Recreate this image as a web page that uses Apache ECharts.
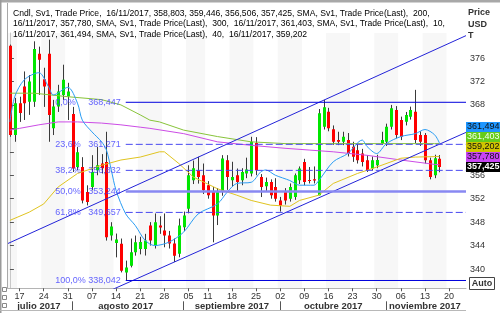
<!DOCTYPE html>
<html><head><meta charset="utf-8">
<script src="https://cdn.jsdelivr.net/npm/echarts@6/dist/echarts.min.js"></script>
<style>html,body{margin:0;padding:0;background:#fff}#c{width:500px;height:313px}</style>
</head><body><div id="c"></div>
<script>
// ---------- DATA ----------
const categories = [
'13/07/2017','14/07/2017',
'17/07/2017','18/07/2017','19/07/2017','20/07/2017','21/07/2017',
'24/07/2017','25/07/2017','26/07/2017','27/07/2017','28/07/2017',
'31/07/2017','01/08/2017','02/08/2017','03/08/2017','04/08/2017',
'07/08/2017','08/08/2017','09/08/2017','10/08/2017','11/08/2017',
'14/08/2017','15/08/2017','16/08/2017','17/08/2017','18/08/2017',
'21/08/2017','22/08/2017','23/08/2017','24/08/2017','25/08/2017',
'28/08/2017','29/08/2017','30/08/2017','31/08/2017','01/09/2017',
'05/09/2017','06/09/2017','07/09/2017','08/09/2017',
'11/09/2017','12/09/2017','13/09/2017','14/09/2017','15/09/2017',
'18/09/2017','19/09/2017','20/09/2017','21/09/2017','22/09/2017',
'25/09/2017','26/09/2017','27/09/2017','28/09/2017','29/09/2017',
'02/10/2017','03/10/2017','04/10/2017','05/10/2017','06/10/2017',
'09/10/2017','10/10/2017','11/10/2017','12/10/2017','13/10/2017',
'16/10/2017','17/10/2017','18/10/2017','19/10/2017','20/10/2017',
'23/10/2017','24/10/2017','25/10/2017','26/10/2017','27/10/2017',
'30/10/2017','31/10/2017','01/11/2017','02/11/2017','03/11/2017',
'06/11/2017','07/11/2017','08/11/2017','09/11/2017','10/11/2017',
'13/11/2017','14/11/2017','15/11/2017','16/11/2017','17/11/2017',
'20/11/2017','21/11/2017','22/11/2017','23/11/2017'];

// [date, open, close, low, high]
const candles = [
['13/07/2017',378.11,362.86,362.56,378.29],
['14/07/2017',362.86,368.29,361.71,369.20],
['17/07/2017',368.29,366.60,365.10,369.40],
['18/07/2017',371.14,368.29,365.43,373.71],
['19/07/2017',368.56,371.99,366.30,373.10],
['20/07/2017',368.56,377.55,367.66,378.85],
['21/07/2017',376.74,375.71,369.71,377.94],
['24/07/2017',372.40,371.14,367.66,374.34],
['25/07/2017',376.74,366.28,361.71,379.14],
['26/07/2017',364.00,367.71,362.86,368.86],
['27/07/2017',367.71,370.28,366.80,371.43],
['28/07/2017',369.71,372.28,368.86,374.86],
['31/07/2017',369.42,370.28,365.43,371.77],
['01/08/2017',366.46,357.15,356.56,367.66],
['02/08/2017',357.42,359.94,356.86,360.85],
['03/08/2017',357.42,351.71,351.20,359.08],
['04/08/2017',353.14,351.42,350.85,354.28],
['07/08/2017',353.99,356.56,353.43,359.43],
['08/08/2017',356.86,357.71,356.00,360.85],
['09/08/2017',358.00,357.20,356.30,359.60],
['10/08/2017',358.28,345.42,344.85,363.42],
['11/08/2017',345.71,347.25,344.85,347.99],
['14/08/2017',344.43,345.05,341.99,346.05],
['15/08/2017',344.29,339.71,339.42,345.20],
['16/08/2017',339.42,340.28,338.042,341.43],
['17/08/2017',340.57,342.85,340.28,345.20],
['18/08/2017',342.85,344.56,342.28,345.71],
['21/08/2017',343.40,344.60,342.50,345.50],
['22/08/2017',343.43,344.85,342.30,346.00],
['23/08/2017',347.42,344.85,344.00,348.00],
['24/08/2017',344.00,347.99,343.50,349.48],
['25/08/2017',347.42,347.10,346.00,349.00],
['28/08/2017',346.57,345.71,343.71,349.48],
['29/08/2017',345.71,344.34,343.50,346.50],
['30/08/2017',344.34,342.28,341.20,345.20],
['31/08/2017',342.62,347.42,342.00,348.60],
['01/09/2017',347.13,349.14,346.50,349.80],
['05/09/2017',350.29,356.00,349.50,357.70],
['06/09/2017',355.14,357.20,354.50,358.50],
['07/09/2017',356.86,355.71,354.57,359.14],
['08/09/2017',356.00,353.43,352.80,358.00],
['11/09/2017',354.28,352.57,352.00,355.00],
['12/09/2017',353.14,349.14,344.56,354.00],
['13/09/2017',349.14,353.14,347.50,353.80],
['14/09/2017',353.14,358.86,352.50,359.43],
['15/09/2017',358.57,355.71,353.50,359.43],
['18/09/2017',355.14,355.71,354.00,358.30],
['19/09/2017',356.00,354.85,353.14,357.15],
['20/09/2017',355.14,356.56,354.30,357.20],
['21/09/2017',356.29,357.00,355.50,359.00],
['22/09/2017',356.29,361.71,355.80,362.56],
['25/09/2017',361.50,356.86,356.00,362.50],
['26/09/2017',355.71,353.99,352.28,356.20],
['27/09/2017',354.11,354.85,353.20,355.60],
['28/09/2017',354.85,352.57,352.00,355.30],
['29/09/2017',354.00,352.00,351.50,355.50],
['02/10/2017',351.71,350.85,349.80,352.30],
['03/10/2017',353.14,351.71,351.00,353.80],
['04/10/2017',352.00,353.99,351.50,354.60],
['05/10/2017',352.28,356.00,351.80,356.30],
['06/10/2017',355.14,357.15,354.50,357.50],
['09/10/2017',358.28,354.85,354.30,358.80],
['10/10/2017',355.20,355.00,354.60,357.40],
['11/10/2017',355.30,355.10,354.60,357.50],
['12/10/2017',352.57,366.58,352.57,367.30],
['13/10/2017',364.28,367.60,363.80,368.86],
['16/10/2017',366.85,364.00,363.50,367.50],
['17/10/2017',363.83,361.71,361.20,364.50],
['18/10/2017',362.00,361.71,361.14,363.42],
['19/10/2017',361.71,362.56,361.14,363.42],
['20/10/2017',362.00,359.72,359.20,363.20],
['23/10/2017',360.85,359.14,358.28,361.71],
['24/10/2017',360.28,358.57,358.00,361.40],
['25/10/2017',359.72,358.28,357.50,360.50],
['26/10/2017',358.57,356.86,356.56,359.43],
['27/10/2017',357.15,358.57,356.80,359.20],
['30/10/2017',357.70,358.60,357.20,359.50],
['31/10/2017',361.43,362.00,361.20,363.42],
['01/11/2017',361.71,364.28,361.00,364.80],
['02/11/2017',364.28,367.43,363.80,368.00],
['03/11/2017',367.14,362.86,362.30,367.80],
['06/11/2017',365.43,362.56,362.00,366.00],
['07/11/2017',365.14,366.28,364.50,366.80],
['08/11/2017',366.00,367.14,365.50,367.70],
['09/11/2017',366.85,362.00,361.50,370.57],
['10/11/2017',362.86,361.71,361.00,363.50],
['13/11/2017',362.86,358.57,358.00,363.20],
['14/11/2017',358.57,355.71,355.30,359.00],
['15/11/2017',356.00,358.91,355.50,359.50],
['16/11/2017',358.803,357.425,356.506,359.446]];

const sma10 = [['13/07/2017',365.1],['14/07/2017',369.4],['18/07/2017',372.3],['21/07/2017',373.5],
['25/07/2017',371.1],['26/07/2017',369.7],['31/07/2017',371.0],['02/08/2017',368.3],['03/08/2017',365.4],
['07/08/2017',363.4],['09/08/2017',361.7],['10/08/2017',360.3],['11/08/2017',356.9],['14/08/2017',353.4],
['16/08/2017',349.4],['18/08/2017',347.4],['22/08/2017',344.9],['24/08/2017',344.0],['29/08/2017',344.6],
['01/09/2017',346.3],['07/09/2017',349.4],['13/09/2017',351.1],['15/09/2017',353.1],['19/09/2017',354.6],
['22/09/2017',354.8],['26/09/2017',356.6],['27/09/2017',356.9],['29/09/2017',356.0],['04/10/2017',355.1],
['06/10/2017',354.3],['11/10/2017',354.3],['12/10/2017',355.1],['17/10/2017',358.3],['20/10/2017',359.7],
['25/10/2017',362.0],['26/10/2017',360.9],['30/10/2017',359.7],['01/11/2017',361.4],['06/11/2017',362.6],
['09/11/2017',363.1],['13/11/2017',363.8],['15/11/2017',362.9],['16/11/2017',361.494]];

const sma40 = [['13/07/2017',348.3],['19/07/2017',349.7],['24/07/2017',351.1],['27/07/2017',354.0],
['02/08/2017',356.3],['09/08/2017',357.7],['15/08/2017',358.6],['21/08/2017',359.1],['25/08/2017',360.0],
['28/08/2017',360.0],['31/08/2017',358.0],['06/09/2017',355.7],['13/09/2017',353.7],['19/09/2017',352.6],
['22/09/2017',351.7],['28/09/2017',350.9],['04/10/2017',350.7],['06/10/2017',351.7],['12/10/2017',352.6],
['17/10/2017',354.6],['24/10/2017',356.3],['30/10/2017',357.4],['06/11/2017',358.9],['09/11/2017',359.1],
['16/11/2017',359.202]];

const sma200 = [['13/07/2017',363.7],['17/07/2017',364.0],['21/07/2017',364.6],['27/07/2017',365.1],
['02/08/2017',365.1],['09/08/2017',364.9],['15/08/2017',364.6],['21/08/2017',364.2],['23/08/2017',364.0],
['01/09/2017',363.1],['13/09/2017',361.7],['22/09/2017',361.1],['03/10/2017',360.6],['10/10/2017',360.3],
['17/10/2017',360.0],['26/10/2017',359.4],['06/11/2017',358.6],['15/11/2017',357.85],['16/11/2017',357.78]];

const sma300 = [['13/07/2017',370.0],['20/07/2017',370.0],['31/07/2017',369.4],['09/08/2017',368.9],
['15/08/2017',368.0],['21/08/2017',366.3],['23/08/2017',365.4],['25/08/2017',365.1],['01/09/2017',363.7],
['13/09/2017',362.6],['22/09/2017',361.7],['03/10/2017',361.4],['17/10/2017',361.4],['26/10/2017',361.4],
['15/11/2017',361.4],['16/11/2017',361.403]];

const fibPercents = ['0,0%','23,6%','38,2%','50,0%','61,8%','100,0%'];
const fibLevels = [368.447, 361.271, 356.832, 353.244, 349.657, 338.042];
const fibStartDate = '16/08/2017';

// channel lines: [category position, price]
const channelUpper = [[-0.5, 344.32], [94.5, 379.82]];
const channelLower = [[17, 334.95], [94.5, 363.31]];

const weekStarts = ['17/07/2017','24/07/2017','31/07/2017','07/08/2017','14/08/2017','21/08/2017','28/08/2017',
'05/09/2017','11/09/2017','18/09/2017','25/09/2017','02/10/2017','09/10/2017','16/10/2017','23/10/2017',
'30/10/2017','06/11/2017','13/11/2017','20/11/2017'];
const monthStarts = ['01/08/2017','01/09/2017','02/10/2017','01/11/2017'];
const monthLabels = {'21/07/2017':'julio 2017','16/08/2017':'agosto 2017','18/09/2017':'septiembre 2017',
'17/10/2017':'octubre 2017','13/11/2017':'noviembre 2017'};
const yTicks = [340,344,348,352,356,360,364,368,372,376];

// ---------- CHART ----------
const FONT = "'Liberation Sans', Arial, sans-serif";
const chart = echarts.init(document.getElementById('c'), null, {renderer:'canvas'});
const fmt = v => v.toFixed(3).replace('.', ',');
const last = a => a[a.length-1][1];
const lastC = candles[candles.length-1];

function renderCandle(params, api) {
  const x = api.value(0), o = api.value(1), c = api.value(2), l = api.value(3), h = api.value(4);
  const pH = api.coord([x, h]), pL = api.coord([x, l]), pO = api.coord([x, o]), pC = api.coord([x, c]);
  const band = api.size([1, 0])[0];
  const w = Math.max(2, Math.round(band * 0.72));
  const cx = Math.round(pH[0]) + 0.5;
  const top = Math.min(pO[1], pC[1]), bot = Math.max(pO[1], pC[1]);
  return {type:'group', children:[
    {type:'line', shape:{x1:cx, y1:pH[1], x2:cx, y2:pL[1]}, style:{stroke:'#3a3a3a', lineWidth:1}},
    {type:'rect', shape:{x:cx - w/2, y:top, width:w, height:Math.max(1, bot-top)},
     style:{fill: c >= o ? '#00e600' : '#ff0000'}}
  ]};
}

const GRID = {left:7.5, right:34, top:33, bottom:24.7};
const fibStartPos = categories.indexOf(fibStartDate);
const fibStyles = [
  {color:'#0000dd', width:1, type:'solid'},
  {color:'#4848f0', width:1, type:[7,3]},
  {color:'#4848f0', width:1, type:[7,3]},
  {color:'#8888f2', width:2.5, type:'solid'},
  {color:'#4848f0', width:1, type:[7,3]},
  {color:'#0000dd', width:1, type:'solid'}];
const FIBC = '#3c3cff';

const fibSeries = fibLevels.map((lv, k) => ({
  type:'line', xAxisIndex:2, yAxisIndex:0, symbol:'none', z:4, silent:true,
  lineStyle: fibStyles[k],
  data:[[fibStartPos, lv], [categories.length - 0.5, lv]]
}));
const fibLabelSeries = {
  type:'scatter', xAxisIndex:2, yAxisIndex:0, symbol:'circle', symbolSize:1, z:5, silent:true,
  itemStyle:{color:'rgba(0,0,0,0)'},
  data: fibLevels.map((lv, k) => ({value:[fibStartPos, lv], name:fibPercents[k]})),
  label:{show:true, position:'left', distance:6,
    formatter: p => '{p|' + p.name + '}{v|' + fmt(p.value[1]) + '}',
    rich:{p:{width:33, align:'left', fontFamily:FONT, fontSize:9, color:FIBC},
          v:{width:31, align:'left', fontFamily:FONT, fontSize:9, color:FIBC}}}
};

const intervalOf = list => (i, v) => list.indexOf(v) >= 0;

chart.setOption({
  animation:false,
  backgroundColor:'#ffffff',
  grid: GRID,
  xAxis:[
    {type:'category', data:categories, boundaryGap:true, gridIndex:0,
     axisLine:{show:true, lineStyle:{color:'#b4b4b4'}},
     axisTick:{show:true, interval:intervalOf(weekStarts), alignWithLabel:true, length:3, lineStyle:{color:'#555'}},
     axisLabel:{interval:intervalOf(weekStarts), formatter:v => v.slice(0,2), color:'#333', fontFamily:FONT, fontSize:9, margin:4},
     splitArea:{show:true, interval:intervalOf(weekStarts), areaStyle:{color:['#f7f7f7','#ffffff']}},
     splitLine:{show:false}},
    {type:'category', data:categories, boundaryGap:true, gridIndex:0, position:'bottom', offset:13,
     axisLine:{show:false},
     axisTick:{show:true, interval:intervalOf(monthStarts), alignWithLabel:true, length:9, lineStyle:{color:'#555'}},
     axisLabel:{interval:(i, v) => monthLabels[v] !== undefined, formatter:v => monthLabels[v] || '',
       color:'#333', fontWeight:'bold', fontFamily:FONT, fontSize:9.5, margin:0},
     splitArea:{show:false}, splitLine:{show:false}},
    {type:'value', min:-0.5, max:categories.length - 0.5, show:false, gridIndex:0}
  ],
  yAxis:[{type:'value', position:'right', min:336.71, max:380.27, scale:true,
    axisLine:{show:true, lineStyle:{color:'#c8c8c8'}},
    axisTick:{show:true, customValues:yTicks, length:4, lineStyle:{color:'#555'}},
    axisLabel:{customValues:yTicks, formatter:v => String(v), color:'#333', fontFamily:FONT, fontSize:9, margin:4},
    splitLine:{show:false}}],
  series:[
    {type:'custom', name:'Cndl', xAxisIndex:0, yAxisIndex:0, renderItem:renderCandle, clip:true, z:2,
     encode:{x:0, y:[1,2,3,4]}, data:candles},
    {type:'line', name:'SMA300', data:sma300, symbol:'none', z:3, lineStyle:{color:'#88c43a', width:1}},
    {type:'line', name:'SMA200', data:sma200, symbol:'none', z:3, lineStyle:{color:'#cc4ce6', width:1}},
    {type:'line', name:'SMA40', data:sma40, symbol:'none', z:3, lineStyle:{color:'#e0c420', width:1}},
    {type:'line', name:'SMA10', data:sma10, symbol:'none', z:3, smooth:0.3, lineStyle:{color:'#2a9df4', width:1}},
    {type:'line', xAxisIndex:2, data:channelUpper, symbol:'none', z:4, clip:true, lineStyle:{color:'#2323d8', width:1}},
    {type:'line', xAxisIndex:2, data:channelLower, symbol:'none', z:4, clip:true, lineStyle:{color:'#2323d8', width:1}},
    ...fibSeries,
    fibLabelSeries
  ]
});

// ---------- legend text, tags, frame ----------
const LFS = 8.6;
const legendLines = [
  [['#000000','Cndl, Sv1, Trade Price,  ' + lastC[0] + ', ' + fmt(lastC[1]) + ', ' + fmt(lastC[4]) + ', ' + fmt(lastC[3]) + ', ' + fmt(lastC[2]) + ', '],
   ['#cc33cc','SMA, Sv1, Trade Price(Last),  200,']],
  [['#cc33cc', lastC[0] + ', ' + fmt(last(sma200)) + ', '],
   ['#66b814','SMA, Sv1, Trade Price(Last),  300,  ' + lastC[0] + ', ' + fmt(last(sma300)) + ', '],
   ['#1e90ff','SMA, Sv1, Trade Price(Last),  10,']],
  [['#1e90ff', lastC[0] + ', ' + fmt(last(sma10)) + ', '],
   ['#d4b400','SMA, Sv1, Trade Price(Last),  40,  ' + lastC[0] + ', ' + fmt(last(sma40))]]
];
const legendGraphics = legendLines.map((parts, li) => {
  const rich = {};
  let text = '';
  parts.forEach((p, k) => { rich['s'+k] = {color:p[0], fontFamily:FONT, fontSize:LFS}; text += '{s'+k+'|' + p[1] + '}'; });
  return {type:'text', left:13, top:9 + li*10.5, z:100, style:{text, rich, fontFamily:FONT, fontSize:LFS}};
});

function buildTags() {
  const tags = [
    {v:lastC[2], bg:'#000000', fg:'#ffffff', bold:true},
    {v:last(sma200), bg:'#c844f4', fg:'#111'},
    {v:last(sma40), bg:'#cfc400', fg:'#111'},
    {v:last(sma300), bg:'#66cc1a', fg:'#f4fff0'},
    {v:last(sma10), bg:'#1e96ff', fg:'#111'}
  ].sort((a,b) => a.v - b.v);
  let prev = null;
  const out = [];
  tags.forEach(t => {
    let y = chart.convertToPixel({yAxisIndex:0}, t.v);
    if (prev !== null) y = Math.min(y, prev - 10);
    prev = y;
    out.push({type:'rect', shape:{x:466, y:y-5, width:34, height:10}, style:{fill:t.bg}, z:110});
    out.push({type:'text', x:467, y:y, z:111, style:{text:fmt(t.v), fill:t.fg, fontFamily:FONT, fontSize:9,
      fontWeight:t.bold?'bold':'normal', verticalAlign:'middle'}});
  });
  return out;
}

const frame = [
  {type:'rect', shape:{x:0, y:0, width:500, height:2.5}, style:{fill:'#a8a8a8'}, z:120},
  {type:'rect', shape:{x:0, y:0, width:1.5, height:313}, style:{fill:'#9a9a9a'}, z:120},
  {type:'line', shape:{x1:7.5, y1:3, x2:7.5, y2:288}, style:{stroke:'#a8a8a8', lineWidth:1}, z:120},
  {type:'line', shape:{x1:0, y1:310.5, x2:466, y2:310.5}, style:{stroke:'#b8b8b8', lineWidth:1}, z:120},
  {type:'rect', shape:{x:2.5, y:287.5, width:4, height:4}, style:{fill:'#fff', stroke:'#888', lineWidth:1}, z:120},
  {type:'rect', shape:{x:2.5, y:295.5, width:4, height:4}, style:{fill:'#fff', stroke:'#888', lineWidth:1}, z:120},
  {type:'rect', shape:{x:2.5, y:303.5, width:4, height:4}, style:{fill:'#fff', stroke:'#888', lineWidth:1}, z:120},
  {type:'text', x:468, y:7, z:120, style:{text:'Price\nUSD\nT', fill:'#333', fontFamily:FONT, fontSize:9, fontWeight:'bold', lineHeight:11.5}},
  {type:'rect', shape:{x:469.5, y:277.5, width:25, height:12}, style:{fill:'#fff', stroke:'#444', lineWidth:1}, z:120},
  {type:'text', x:482, y:283.5, z:121, style:{text:'Auto', fill:'#333', fontFamily:FONT, fontSize:9, fontWeight:'bold', align:'center', verticalAlign:'middle'}}
];

chart.setOption({graphic: [...legendGraphics, ...buildTags(), ...frame]});
</script>
</body></html>
